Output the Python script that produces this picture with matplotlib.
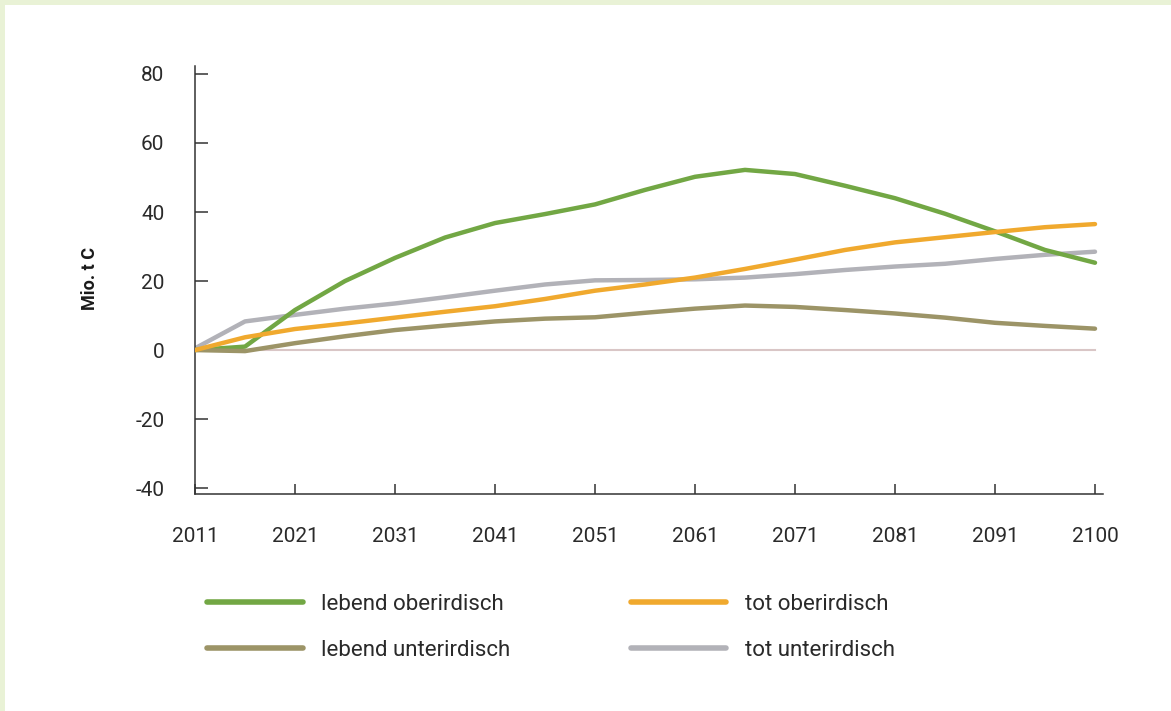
import matplotlib.pyplot as plt
from matplotlib.patches import Rectangle
from matplotlib.lines import Line2D

plt.rcParams['font.family'] = ['Roboto', 'DejaVu Sans']

# positions on the x axis (last position carries the label 2100)
years = [2011, 2016, 2021, 2026, 2031, 2036, 2041, 2046, 2051, 2056,
         2061, 2066, 2071, 2076, 2081, 2086, 2091, 2096, 2101]
tick_pos = [2011, 2021, 2031, 2041, 2051, 2061, 2071, 2081, 2091, 2101]
tick_labels = ['2011', '2021', '2031', '2041', '2051', '2061', '2071',
               '2081', '2091', '2100']

lebend_ober = [0, 1.0, 11.6, 20.0, 26.7, 32.6, 36.8, 39.4, 42.2, 46.4,
               50.2, 52.2, 51.0, 47.6, 44.0, 39.5, 34.4, 29.0, 25.3]
lebend_unter = [0, -0.3, 2.0, 4.0, 5.8, 7.1, 8.3, 9.1, 9.5, 10.8,
                12.0, 12.9, 12.5, 11.6, 10.6, 9.4, 7.9, 7.0, 6.2]
tot_ober = [0, 3.7, 6.1, 7.7, 9.4, 11.1, 12.7, 14.8, 17.2, 19.0,
            21.0, 23.5, 26.2, 29.0, 31.2, 32.7, 34.2, 35.6, 36.5]
tot_unter = [0.5, 8.3, 10.2, 12.0, 13.5, 15.3, 17.2, 19.0, 20.2, 20.3,
             20.5, 21.0, 22.0, 23.2, 24.2, 25.0, 26.4, 27.6, 28.5]

green = '#72a744'
olive = '#9c9467'
orange = '#f0a92e'
grey = '#b2b2b8'

fig = plt.figure(figsize=(11.71, 7.11), dpi=100)
fig.patch.set_facecolor('#e9f2d6')
fig.patches.append(Rectangle((5 / 1171, 0), 1, 1 - 5 / 711, transform=fig.transFigure,
                             facecolor='white', edgecolor='none', zorder=-10))

ax = fig.add_axes([195 / 1171, 1 - 494 / 711, 908 / 1171, 428 / 711])
ax.set_facecolor('none')

ax.plot([years[0], years[-1]], [0, 0], color='#d9c6c6', lw=1.5, zorder=1)
ax.plot(years, lebend_ober, color=green, lw=3.2, solid_capstyle='round', zorder=3)
ax.plot(years, lebend_unter, color=olive, lw=3.2, solid_capstyle='round', zorder=3)
ax.plot(years, tot_ober, color=orange, lw=3.2, solid_capstyle='round', zorder=3)
ax.plot(years, tot_unter, color=grey, lw=3.2, solid_capstyle='round', zorder=2)

ax.set_xlim(2011, 2101.8)
ax.set_ylim(-41.7, 82.3)
ax.set_yticks([-40, -20, 0, 20, 40, 60, 80])
ax.set_yticklabels(['-40', '-20', '0', '20', '40', '60', '80'])
ax.set_xticks(tick_pos)
ax.set_xticklabels(tick_labels)

for s in ['top', 'right']:
    ax.spines[s].set_visible(False)
for s in ['left', 'bottom']:
    ax.spines[s].set_color('#333333')
    ax.spines[s].set_linewidth(1.1)

ax.tick_params(axis='y', direction='in', length=9, width=1.1, color='#333333',
               pad=22, labelsize=15, labelcolor='#2a2a2a')
ax.tick_params(axis='x', direction='in', length=7.5, width=1.1, color='#333333',
               pad=24, labelsize=15, labelcolor='#2a2a2a')

fig.text(90 / 1171, 1 - 279 / 711, 'Mio. t C', rotation=90, ha='center', va='center',
         fontsize=13, fontweight='bold', color='#1a1a1a')

handles = [Line2D([], [], color=green, lw=4, solid_capstyle='round'),
           Line2D([], [], color=olive, lw=4, solid_capstyle='round'),
           Line2D([], [], color=orange, lw=4, solid_capstyle='round'),
           Line2D([], [], color=grey, lw=4, solid_capstyle='round')]
labels = ['lebend oberirdisch', 'lebend unterirdisch', 'tot oberirdisch', 'tot unterirdisch']
leg = fig.legend(handles, labels, ncol=2, loc='upper left',
                 bbox_to_anchor=(207 / 1171, 1 - 594 / 711), frameon=False,
                 fontsize=16, handlelength=4.3, handletextpad=0.85,
                 columnspacing=5.4, labelspacing=1.12, borderpad=0, borderaxespad=0)
for t in leg.get_texts():
    t.set_color('#2a2a2a')

fig.savefig('out.png', dpi=100, facecolor=fig.get_facecolor())
